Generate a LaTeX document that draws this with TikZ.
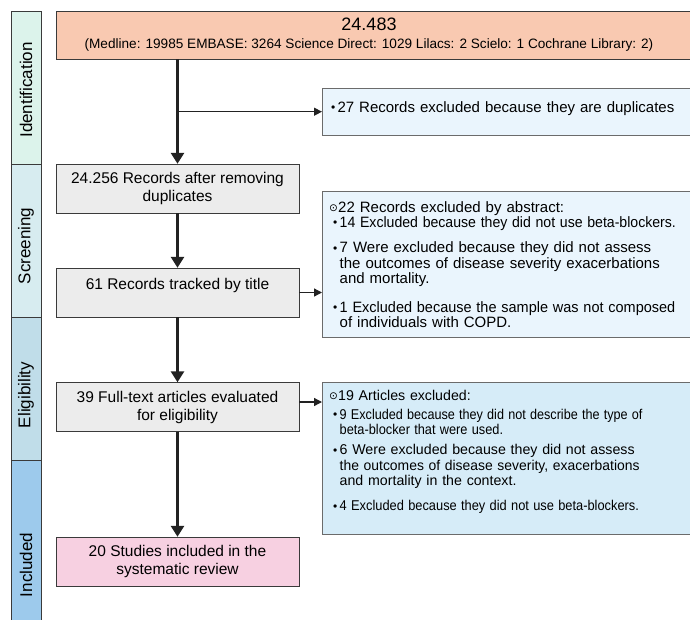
\documentclass[tikz,border=0pt]{standalone}
\usepackage{fontspec}
\setmainfont{Liberation Sans}
\newfontfamily\symfont{DejaVu Sans}
\usepackage{graphicx}
\usetikzlibrary{arrows.meta,positioning}

\definecolor{identcol}{HTML}{DCF3EB}
\definecolor{screencol}{HTML}{D7ECF0}
\definecolor{eligcol}{HTML}{C0DDE9}
\definecolor{inclcol}{HTML}{9DCAEC}
\definecolor{srccol}{HTML}{F9C9B1}
\definecolor{boxgray}{HTML}{ECECEC}
\definecolor{dupcol}{HTML}{EAF5FD}
\definecolor{abstcol}{HTML}{EAF5FD}
\definecolor{fullcol}{HTML}{D6ECF8}
\definecolor{studcol}{HTML}{F7D0E1}
\definecolor{linegray}{HTML}{3A3A3A}
\definecolor{exclline}{HTML}{6B6B6B}
\definecolor{arrowgray}{HTML}{222222}

\newcommand{\cond}[2][0.94]{\scalebox{#1}[1]{#2}}
\newcommand{\circdot}[2]{\makebox[#1][l]{\hspace*{#2}\raisebox{0.6pt}{\symfont\fontsize{10.5}{10.5}\selectfont ⊙}}}
\newcommand{\bul}[2]{\makebox[#1][l]{\hspace*{#2}\raisebox{0.8pt}{\fontsize{12}{12}\selectfont\textbullet}}}

\begin{document}
\begin{tikzpicture}[x=1pt,y=-1pt,
    stage/.style={draw=linegray,minimum width=30pt,inner sep=0pt},
    stagelabel/.style={rotate=90,inner sep=0pt,font=\fontsize{17}{20}\selectfont},
    stepbox/.style={draw=linegray,fill=boxgray,minimum width=243pt,minimum height=49pt,
      align=center,inner sep=2pt,font=\fontsize{15.5}{18}\selectfont},
    exclbox/.style={draw=exclline,anchor=north west,minimum width=380pt,text width=372pt,
      align=left,inner xsep=4pt,inner ysep=0pt},
    flow/.style={line width=3.3pt,arrowgray,-{Triangle[width=13pt,length=11pt]}},
    side/.style={line width=1.3pt,arrowgray,-{Triangle[width=8pt,length=8pt]}}]
  \useasboundingbox (0,0) rectangle (690,620);
  \foreach \nm/\txt/\ya/\yb/\col/\lby in {ident/Identification/11/164.5/identcol/90,
      screen/Screening/164.5/317.5/screencol/246,elig/Eligibility/317.5/460.5/eligcol/395,
      incl/Included/460.5/670/inclcol/565}{
    \node[stage,fill=\col,minimum height=\yb-\ya] (\nm) at (26,{(\ya+\yb)/2}) {};
    \node[stagelabel] (\nm txt) at (26,\lby) {\txt};
  }
  \node[stepbox,fill=srccol,minimum width=644pt,minimum height=48pt] (src) at (378,35) {};
  \node[align=center,font=\fontsize{13.6}{18}\selectfont] (srctxt) at (369,35)
    {{\fontsize{18}{18}\selectfont 24.483}\\(Medline: 19985 EMBASE: 3264 Science Direct: 1029 Lilacs: 2 Scielo: 1 Cochrane Library: 2)};
  \node[stepbox] (dedup) at (177.5,188.5) {24.256 Records after removing\\duplicates};
  \node[stepbox] (title) at (177.5,292.5) {61 Records tracked by title\\\mbox{}};
  \node[stepbox] (fulltext) at (177.5,407) {39 Full-text articles evaluated\\for eligibility};
  \node[stepbox,fill=studcol] (studies) at (177.5,561.5) {20 Studies included in the\\systematic review};
  \node[exclbox,fill=dupcol,minimum height=47pt,font=\fontsize{15}{18}\selectfont] (dup) at (322,88)
    {\noindent\begin{tabular}{@{}l@{}l@{}}
     \bul{11.3pt}{5pt} & 27 Records excluded because they are duplicates\\[5pt]
     \end{tabular}};
  \node[exclbox,fill=abstcol,minimum height=146pt,font=\fontsize{15}{14.5}\selectfont] (abst) at (322,191)
    {\noindent\begin{tabular}{@{}l@{}l@{}}
     \noalign{\vskip4.5pt}
     \multicolumn{2}{@{}l@{}}{\circdot{12pt}{3pt}22 Records excluded by abstract:}\\
     \bul{13.5pt}{6.9pt} & \cond{14 Excluded because they did not use beta-blockers.}\\[10.5pt]
     \bul{13.5pt}{6.9pt} & 7 Were excluded because they did not assess\\
      & the outcomes of disease severity exacerbations\\
      & and mortality.\\[13.5pt]
     \bul{13.5pt}{6.9pt} & \cond[0.965]{1 Excluded because the sample was not composed}\\
      & of individuals with COPD.
     \end{tabular}};
  \node[exclbox,fill=fullcol,minimum height=152pt,font=\fontsize{14.2}{15.5}\selectfont] (fullexcl) at (322,382)
    {\noindent\begin{tabular}{@{}l@{}l@{}}
     \multicolumn{2}{@{}l@{}}{\circdot{12pt}{3pt}19 Articles excluded:}\\[3.5pt]
     \bul{13.5pt}{6.9pt} & \cond[0.89]{9 Excluded because they did not describe the type of}\\
      & \cond[0.9]{beta-blocker that were used.}\\[4.5pt]
     \bul{13.5pt}{6.9pt} & 6 Were excluded because they did not assess\\
      & \cond[0.98]{the outcomes of disease severity, exacerbations}\\
      & and mortality in the context.\\[9.5pt]
     \bul{13.5pt}{6.9pt} & \cond[0.905]{4 Excluded because they did not use beta-blockers.}\\
     \noalign{\vskip11.5pt}
     \end{tabular}};
  \coordinate (split) at (dedup.north |- dup.west);
  \draw[flow] (src.south -| dedup.north) -- (dedup);
  \draw[side] (split) -- (dup.west);
  \draw[flow] (dedup) -- (title);
  \draw[side] (title.east) -- (title.east -| abst.west);
  \draw[flow] (title) -- (fulltext);
  \draw[side] ([yshift=5pt]fulltext.east) -- ([yshift=5pt]fulltext.east -| fullexcl.west);
  \draw[flow] (fulltext) -- (studies);
\end{tikzpicture}
\end{document}
